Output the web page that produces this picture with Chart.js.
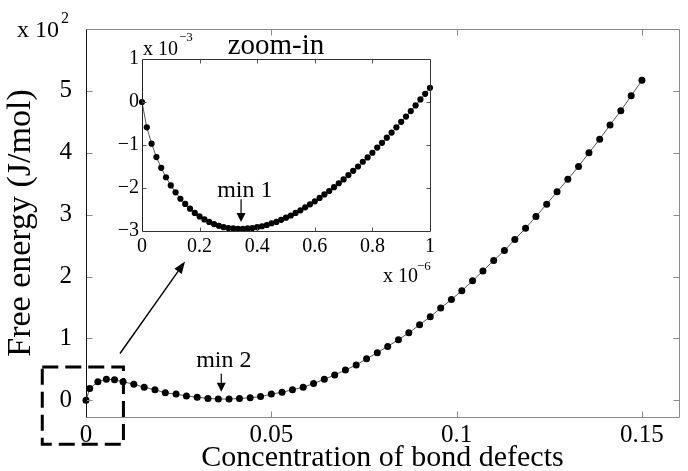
<!DOCTYPE html>
<html><head><meta charset="utf-8">
<script src="https://cdn.jsdelivr.net/npm/chart.js@4/dist/chart.umd.min.js"></script>
<style>
html,body{margin:0;padding:0;background:#fff;}
#wrap{position:relative;width:688px;height:471px;overflow:hidden;}
canvas{position:absolute;left:0;top:0;}
</style></head><body>
<div id="wrap"><canvas id="main" width="688" height="471"></canvas><canvas id="inset" width="688" height="471"></canvas></div>
<script>
// ---- main curve: concentration of bond defects vs free energy (x 10^2 J/mol)
const mainX = [0, 0.001, 0.0032, 0.0055, 0.0077,
  0.01, 0.0129, 0.0157, 0.0186, 0.0214, 0.0243, 0.0271, 0.03, 0.0329, 0.0357,
  0.0386, 0.0414, 0.0443, 0.0471, 0.05, 0.0529, 0.0557, 0.0586, 0.0614, 0.0643,
  0.0671, 0.07, 0.0729, 0.0757, 0.0786, 0.0814, 0.0843, 0.0871, 0.09, 0.0929,
  0.0957, 0.0986, 0.1014, 0.1043, 0.1071, 0.11, 0.1129, 0.1157, 0.1186, 0.1214,
  0.1243, 0.1271, 0.13, 0.1329, 0.1357, 0.1386, 0.1414, 0.1443, 0.1471, 0.15];
const mainY = [0, 0.19, 0.30, 0.34, 0.33,
  0.30, 0.26, 0.21, 0.17, 0.12, 0.10, 0.07, 0.05, 0.03, 0.02,
  0.02, 0.03, 0.04, 0.06, 0.10, 0.13, 0.17, 0.21, 0.27, 0.34,
  0.41, 0.49, 0.57, 0.67, 0.77, 0.87, 0.98, 1.09, 1.22, 1.35,
  1.49, 1.63, 1.77, 1.93, 2.09, 2.26, 2.42, 2.60, 2.78, 2.97,
  3.17, 3.37, 3.57, 3.78, 4.00, 4.22, 4.45, 4.68, 4.92, 5.17];
const mainXTicks = [0, 0.05, 0.1, 0.15];
const mainYTicks = [0, 1, 2, 3, 4, 5];

// ---- inset (zoom-in): x in 1e-6, y in 1e-3
const insetX = [0, 0.0167, 0.0333, 0.05, 0.0667, 0.0833, 0.1, 0.1167, 0.1333, 0.15,
  0.1667, 0.1833, 0.2, 0.2167, 0.2333, 0.25, 0.2667, 0.2833, 0.3, 0.3167,
  0.3333, 0.35, 0.3667, 0.3833, 0.4, 0.4167, 0.4333, 0.45, 0.4667, 0.4833,
  0.5, 0.5167, 0.5333, 0.55, 0.5667, 0.5833, 0.6, 0.6167, 0.6333, 0.65,
  0.6667, 0.6833, 0.7, 0.7167, 0.7333, 0.75, 0.7667, 0.7833, 0.8, 0.8167,
  0.8333, 0.85, 0.8667, 0.8833, 0.9, 0.9167, 0.9333, 0.95, 0.9667, 0.9833, 1];
const insetY = [0, -0.59, -0.97, -1.28, -1.53, -1.75, -1.94, -2.10, -2.25, -2.37,
  -2.48, -2.58, -2.66, -2.73, -2.79, -2.84, -2.88, -2.91, -2.93, -2.94,
  -2.95, -2.95, -2.94, -2.93, -2.91, -2.89, -2.86, -2.82, -2.79, -2.74,
  -2.69, -2.64, -2.58, -2.52, -2.45, -2.38, -2.31, -2.23, -2.15, -2.07,
  -1.98, -1.89, -1.80, -1.70, -1.60, -1.50, -1.39, -1.29, -1.18, -1.06,
  -0.95, -0.83, -0.71, -0.59, -0.46, -0.34, -0.21, -0.08, 0.06, 0.19, 0.33];
const insetXTicks = [0, 0.2, 0.4, 0.6, 0.8, 1];
const insetYTicks = [-3, -2, -1, 0, 1];

const FONT = 'Liberation Serif';

function arrow(ctx, x1, y1, x2, y2, hl, hw) {
  const ang = Math.atan2(y2 - y1, x2 - x1);
  const bx = x2 - hl * Math.cos(ang), by = y2 - hl * Math.sin(ang);
  ctx.beginPath(); ctx.moveTo(x1, y1); ctx.lineTo(bx, by); ctx.stroke();
  ctx.beginPath();
  ctx.moveTo(x2, y2);
  ctx.lineTo(bx + hw / 2 * Math.sin(ang), by - hw / 2 * Math.cos(ang));
  ctx.lineTo(bx - hw / 2 * Math.sin(ang), by + hw / 2 * Math.cos(ang));
  ctx.closePath(); ctx.fill();
}

function frameAndTicks(chart, xt, yt, len, frameColor, leftColor, tickColor) {
  const {ctx, chartArea: a, scales: {x, y}} = chart;
  const L = Math.round(a.left) + 0.5, R = Math.round(a.right) + 0.5;
  const T = Math.round(a.top) + 0.5, B = Math.round(a.bottom) + 0.5;
  ctx.save();
  ctx.lineWidth = 1;
  ctx.strokeStyle = tickColor;
  ctx.beginPath();
  xt.forEach(v => {
    const px = Math.round(x.getPixelForValue(v)) + 0.5;
    if (Math.abs(px - L) < 2 || Math.abs(px - R) < 2) return;
    ctx.moveTo(px, B); ctx.lineTo(px, B - len);
    ctx.moveTo(px, T); ctx.lineTo(px, T + len);
  });
  yt.forEach(v => {
    const py = Math.round(y.getPixelForValue(v)) + 0.5;
    if (Math.abs(py - T) < 2 || Math.abs(py - B) < 2) return;
    ctx.moveTo(L, py); ctx.lineTo(L + len, py);
    ctx.moveTo(R, py); ctx.lineTo(R - len, py);
  });
  ctx.stroke();
  ctx.strokeStyle = frameColor;
  ctx.beginPath();
  ctx.moveTo(L, T); ctx.lineTo(R, T); ctx.lineTo(R, B); ctx.lineTo(L, B);
  ctx.stroke();
  ctx.strokeStyle = leftColor;
  ctx.beginPath(); ctx.moveTo(L, T); ctx.lineTo(L, B); ctx.stroke();
  ctx.restore();
}

const mainDeco = {
  id: 'mainDeco',
  afterDraw(chart) {
    const {ctx, scales: {x, y}} = chart;
    frameAndTicks(chart, mainXTicks, mainYTicks, 6, '#8a8a8a', '#111', '#8a8a8a');
    ctx.save();
    ctx.fillStyle = '#000'; ctx.strokeStyle = '#000';
    // scale factor label
    ctx.font = '24px ' + FONT; ctx.textBaseline = 'alphabetic'; ctx.textAlign = 'left';
    ctx.fillText('x 10', 17, 37);
    ctx.font = '16px ' + FONT;
    ctx.fillText('2', 61, 23);
    // min 2 label + arrow
    ctx.font = '24px ' + FONT; ctx.textAlign = 'center';
    ctx.fillText('min 2', x.getPixelForValue(0.0372), y.getPixelForValue(0.54));
    ctx.lineWidth = 1.2;
    const ax = x.getPixelForValue(0.0365);
    arrow(ctx, ax, y.getPixelForValue(0.43), ax, y.getPixelForValue(0.14), 9, 9);
    // dashed zoom box
    ctx.lineWidth = 3; ctx.setLineDash([16, 7]);
    const bl = x.getPixelForValue(-0.0118), br = x.getPixelForValue(0.0101);
    const bt = y.getPixelForValue(0.537), bb = y.getPixelForValue(-0.71);
    ctx.strokeRect(bl, bt, br - bl, bb - bt);
    ctx.setLineDash([]);
    // pointer arrow to the inset
    ctx.lineWidth = 1.4;
    arrow(ctx, 120, 353.5, 185, 261.5, 12, 9);
    ctx.restore();
  }
};

const insetDeco = {
  id: 'insetDeco',
  afterDraw(chart) {
    const {ctx, scales: {x, y}} = chart;
    frameAndTicks(chart, insetXTicks, insetYTicks, 4, '#333', '#222', '#555');
    ctx.save();
    ctx.fillStyle = '#000'; ctx.strokeStyle = '#000';
    ctx.textBaseline = 'alphabetic';
    ctx.font = '29px ' + FONT; ctx.textAlign = 'center';
    ctx.fillText('zoom-in', 276, 54);
    ctx.textAlign = 'left';
    ctx.font = '20px ' + FONT;
    ctx.fillText('x 10', 143, 55);
    ctx.fillText('x 10', 383, 282);
    ctx.font = '13px ' + FONT;
    ctx.fillText('\u22123', 179, 41);
    ctx.fillText('\u22126', 417, 270);
    ctx.font = '24px ' + FONT; ctx.textAlign = 'center';
    ctx.fillText('min 1', x.getPixelForValue(0.357), y.getPixelForValue(-2.21));
    ctx.lineWidth = 1.2;
    const ax = x.getPixelForValue(0.344);
    arrow(ctx, ax, y.getPixelForValue(-2.26), ax, y.getPixelForValue(-2.79), 9, 9);
    ctx.restore();
  }
};

const fmtMinus = v => (v < 0 ? '\u2212' + Math.abs(v) : String(v));

new Chart(document.getElementById('main'), {
  type: 'line',
  data: { datasets: [{
    data: mainX.map((v, i) => ({ x: v, y: mainY[i] })),
    borderColor: '#555', borderWidth: 1, tension: 0,
    pointRadius: 3.5, pointHoverRadius: 3.5, pointBackgroundColor: '#000', pointBorderWidth: 0,
    clip: false
  }] },
  options: {
    responsive: false, animation: false, events: [],
    layout: { padding: { top: 13, right: 9, left: 0, bottom: 0 } },
    plugins: { legend: { display: false }, tooltip: { enabled: false } },
    scales: {
      x: {
        type: 'linear', min: 0, max: 0.16,
        afterBuildTicks: s => { s.ticks = mainXTicks.map(v => ({ value: v })); },
        afterFit: s => { s.height = 54; },
        grid: { display: false, drawTicks: false }, border: { display: false },
        ticks: { padding: 3, color: '#000', font: { family: FONT, size: 25 }, maxRotation: 0, autoSkip: false, callback: v => String(v) },
        title: { display: true, text: 'Concentration of bond defects', color: '#000',
          font: { family: FONT, size: 30, lineHeight: 1 }, padding: { top: 0, bottom: -2 } }
      },
      y: {
        type: 'linear', min: -0.27, max: 6,
        afterBuildTicks: s => { s.ticks = mainYTicks.map(v => ({ value: v })); },
        afterFit: s => { s.width = 86; },
        grid: { display: false, drawTicks: false }, border: { display: false },
        ticks: { padding: 14, color: '#000', font: { family: FONT, size: 25 }, callback: v => String(v) },
        title: { display: true, text: 'Free energy (J/mol)', color: '#000',
          font: { family: FONT, size: 34, lineHeight: 1 }, padding: { top: 4, bottom: 0 } }
      }
    }
  },
  plugins: [mainDeco]
});

new Chart(document.getElementById('inset'), {
  type: 'line',
  data: { datasets: [{
    data: insetX.map((v, i) => ({ x: v, y: insetY[i] })),
    borderColor: '#555', borderWidth: 1, tension: 0,
    pointRadius: 3.1, pointHoverRadius: 3.1, pointBackgroundColor: '#000', pointBorderWidth: 0,
    clip: false
  }] },
  options: {
    responsive: false, animation: false, events: [],
    layout: { padding: { top: 59, right: 258, left: 0, bottom: 0 } },
    plugins: { legend: { display: false }, tooltip: { enabled: false } },
    scales: {
      x: {
        type: 'linear', min: 0, max: 1,
        afterBuildTicks: s => { s.ticks = insetXTicks.map(v => ({ value: v })); },
        afterFit: s => { s.height = 240; },
        grid: { display: false, drawTicks: false }, border: { display: false },
        ticks: { padding: 4, color: '#000', font: { family: FONT, size: 20 }, maxRotation: 0, autoSkip: false, callback: v => String(v) }
      },
      y: {
        type: 'linear', min: -3, max: 1,
        afterBuildTicks: s => { s.ticks = insetYTicks.map(v => ({ value: v })); },
        afterFit: s => { s.width = 142; },
        grid: { display: false, drawTicks: false }, border: { display: false },
        ticks: { padding: 3, color: '#000', font: { family: FONT, size: 20 }, callback: fmtMinus }
      }
    }
  },
  plugins: [insetDeco]
});
</script>
</body></html>
